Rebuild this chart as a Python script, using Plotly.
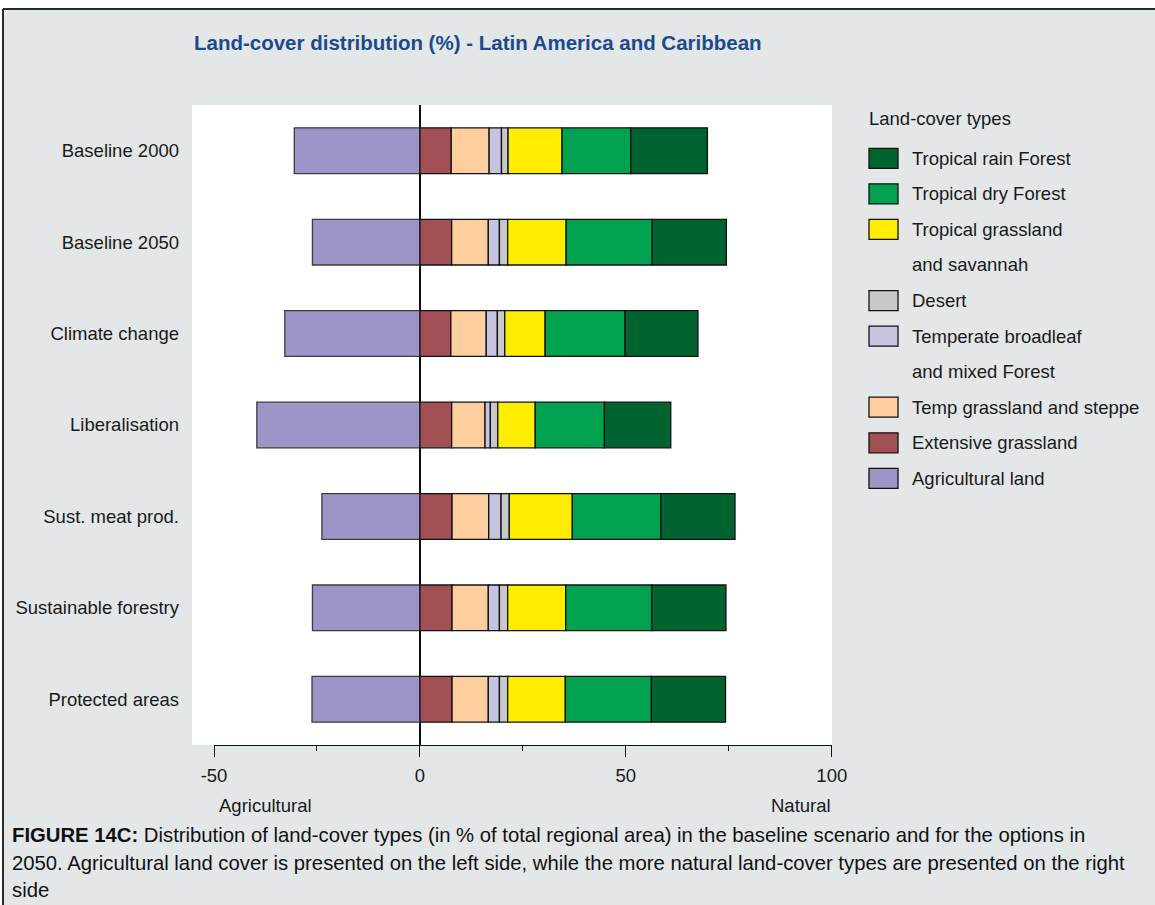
import plotly.graph_objects as go

# ---- data -------------------------------------------------------------
scenarios = ["Baseline 2000", "Baseline 2050", "Climate change", "Liberalisation",
             "Sust. meat prod.", "Sustainable forestry", "Protected areas"]

agricultural_land = [30.5, 26.1, 32.8, 39.6, 23.8, 26.1, 26.2]
extensive_grassland = [7.6, 7.7, 7.5, 7.7, 7.8, 7.8, 7.8]
temp_grassland_steppe = [9.2, 8.9, 8.6, 8.1, 8.9, 8.8, 8.8]
temperate_broadleaf = [3.0, 2.7, 2.7, 1.3, 3.0, 2.7, 2.7]
desert = [1.6, 2.0, 1.8, 1.8, 2.0, 2.0, 2.0]
tropical_grassland = [13.1, 14.2, 9.8, 9.1, 15.3, 14.1, 14.0]
tropical_dry_forest = [16.7, 20.9, 19.4, 16.8, 21.5, 20.9, 20.9]
tropical_rain_forest = [18.6, 18.0, 17.7, 16.1, 18.0, 18.0, 18.0]

x_ticks = [-50, 0, 50, 100]

# ---- styling ----------------------------------------------------------
FONT = "Liberation Sans, Arial, Helvetica, sans-serif"
FS = 18.5
BG = "#e3e7e8"
TEXT = "#1a1a1a"

W, H = 1155, 905
ML, MR, MT, MB = 214, 323, 105, 160
PW, PH = W - ML - MR, H - MT - MB


def px_x(px):
    return (px - ML) / PW


def px_y(py):
    return (H - MB - py) / PH


# stacking order from the centre outwards; agricultural land goes to the left
series = [
    ("Agricultural land", [-v for v in agricultural_land], "#9b95c8", "#3c3c3c"),
    ("Extensive grassland", extensive_grassland, "#a24f56", "#111111"),
    ("Temp grassland and steppe", temp_grassland_steppe, "#fecf9e", "#111111"),
    ("Temperate broadleaf and mixed Forest", temperate_broadleaf, "#c7c4e2", "#111111"),
    ("Desert", desert, "#c6c8ca", "#111111"),
    ("Tropical grassland and savannah", tropical_grassland, "#ffed00", "#111111"),
    ("Tropical dry Forest", tropical_dry_forest, "#00a250", "#111111"),
    ("Tropical rain Forest", tropical_rain_forest, "#006430", "#111111"),
]

fig = go.Figure()
for name, vals, color, edge in series:
    fig.add_trace(go.Bar(
        y=scenarios, x=vals, name=name, orientation="h",
        marker=dict(color=color, line=dict(color=edge, width=1.3)),
        showlegend=False,
    ))

shapes = []
annotations = []

# white margin and dark frame around the panel
shapes.append(dict(type="rect", xref="paper", yref="paper", layer="below",
                   x0=px_x(-5), x1=px_x(W + 5), y0=px_y(8), y1=px_y(-5),
                   fillcolor="white", line=dict(width=0)))
shapes.append(dict(type="rect", xref="paper", yref="paper", layer="below",
                   x0=px_x(-5), x1=px_x(2), y0=px_y(H + 5), y1=px_y(-5),
                   fillcolor="white", line=dict(width=0)))
shapes.append(dict(type="line", xref="paper", yref="paper", layer="below",
                   x0=px_x(3), x1=px_x(W + 5), y0=px_y(9), y1=px_y(9),
                   line=dict(color="#2a2a2a", width=2)))
shapes.append(dict(type="line", xref="paper", yref="paper", layer="below",
                   x0=px_x(3), x1=px_x(3), y0=px_y(9), y1=px_y(H + 5),
                   line=dict(color="#2a2a2a", width=2)))
# white strip extending the plotting panel to the left of -50
shapes.append(dict(type="rect", xref="paper", yref="paper", layer="below",
                   x0=px_x(192), x1=0, y0=0, y1=1,
                   fillcolor="white", line=dict(width=0)))

# title
annotations.append(dict(xref="paper", yref="paper", x=px_x(192), y=px_y(43),
                        xanchor="left", yanchor="middle", showarrow=False,
                        text="<b>Land-cover distribution (%) - Latin America and Caribbean</b>",
                        font=dict(family=FONT, size=20.5, color="#1b4a8e")))

# axis end labels
annotations.append(dict(xref="paper", yref="paper", x=px_x(217), y=px_y(805),
                        xanchor="left", yanchor="middle", showarrow=False,
                        text="Agricultural", font=dict(family=FONT, size=FS, color=TEXT)))
annotations.append(dict(xref="paper", yref="paper", x=px_x(833), y=px_y(805),
                        xanchor="right", yanchor="middle", showarrow=False,
                        text="Natural", font=dict(family=FONT, size=FS, color=TEXT)))

# legend drawn as swatches + labels, top entry first
legend_entries = [
    ("Tropical rain Forest", ["Tropical rain Forest"]),
    ("Tropical dry Forest", ["Tropical dry Forest"]),
    ("Tropical grassland and savannah", ["Tropical grassland", "and savannah"]),
    ("Desert", ["Desert"]),
    ("Temperate broadleaf and mixed Forest", ["Temperate broadleaf", "and mixed Forest"]),
    ("Temp grassland and steppe", ["Temp grassland and steppe"]),
    ("Extensive grassland", ["Extensive grassland"]),
    ("Agricultural land", ["Agricultural land"]),
]
colors = {name: (color, edge) for name, _, color, edge in series}

annotations.append(dict(xref="paper", yref="paper", x=px_x(867), y=px_y(119),
                        xanchor="left", yanchor="middle", showarrow=False,
                        text="Land-cover types", font=dict(family=FONT, size=FS, color=TEXT)))
LEG_Y0, LEG_STEP = 158.3, 35.56
line_no = 0
for name, lines in legend_entries:
    cy = LEG_Y0 + LEG_STEP * line_no
    shapes.append(dict(type="rect", xref="paper", yref="paper",
                       x0=px_x(869), x1=px_x(898), y0=px_y(cy + 10), y1=px_y(cy - 10),
                       fillcolor=colors[name][0], line=dict(color="#111111", width=1.3)))
    for ln in lines:
        cy = LEG_Y0 + LEG_STEP * line_no
        annotations.append(dict(xref="paper", yref="paper", x=px_x(910), y=px_y(cy),
                                xanchor="left", yanchor="middle", showarrow=False,
                                text=ln, font=dict(family=FONT, size=FS, color=TEXT)))
        line_no += 1

# figure caption
caption = [
    "<b>FIGURE 14C:</b> Distribution of land-cover types (in % of total regional area) in the baseline scenario and for the options in",
    "2050. Agricultural land cover is presented on the left side, while the more natural land-cover types are presented on the right",
    "side",
]
for i, txt in enumerate(caption):
    annotations.append(dict(xref="paper", yref="paper", x=px_x(10), y=px_y(835 + 27.5 * i),
                            xanchor="left", yanchor="middle", showarrow=False,
                            text=txt, font=dict(family=FONT, size=20.3, color="#111111")))

fig.update_layout(
    width=W, height=H,
    margin=dict(l=ML, r=MR, t=MT, b=MB, pad=0, autoexpand=False),
    paper_bgcolor=BG, plot_bgcolor="white",
    barmode="relative", bargap=0.5,
    showlegend=False,
    shapes=shapes, annotations=annotations,
    font=dict(family=FONT, size=FS, color=TEXT),
    xaxis=dict(
        range=[-50, 100.05], tickvals=x_ticks, ticktext=[str(t) for t in x_ticks],
        showgrid=False, zeroline=True, zerolinecolor="#111111", zerolinewidth=1.5,
        showline=True, linecolor="#111111", linewidth=1.3,
        ticks="outside", ticklen=11, tickwidth=1.3, tickcolor="#111111",
        minor=dict(dtick=25, tick0=0, ticks="outside", ticklen=5, tickwidth=1.3,
                   tickcolor="#111111", showgrid=False),
        tickfont=dict(family=FONT, size=FS, color=TEXT),
        ticklabelstandoff=3,
        layer="above traces", fixedrange=True, automargin=False,
    ),
    yaxis=dict(
        categoryorder="array", categoryarray=scenarios, autorange="reversed",
        showgrid=False, zeroline=False, showline=False, ticks="",
        ticklabelstandoff=34,
        tickfont=dict(family=FONT, size=FS, color=TEXT), fixedrange=True,
        automargin=False,
    ),
)

fig.write_html("out.html")
